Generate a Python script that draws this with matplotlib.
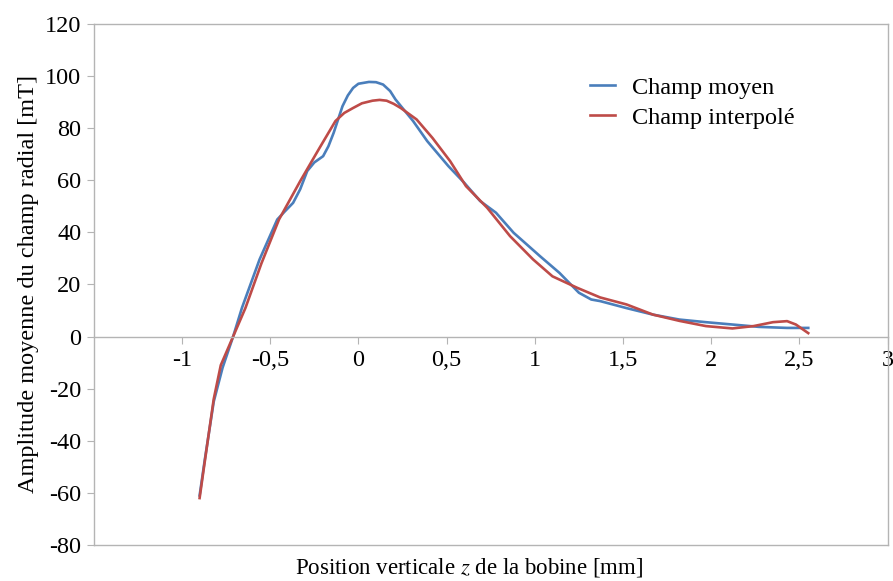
import numpy as np
import matplotlib.pyplot as plt

# data
x_moyen = [-0.90, -0.87, -0.82, -0.77, -0.71, -0.66, -0.56, -0.46, -0.42, -0.37, -0.33, -0.29,
           -0.25, -0.20, -0.17, -0.14, -0.09, -0.06, -0.03, 0.00, 0.06, 0.10, 0.14, 0.18, 0.21,
           0.31, 0.39, 0.51, 0.60, 0.69, 0.78, 0.88, 1.03, 1.14, 1.25, 1.32, 1.37, 1.52, 1.67,
           1.82, 1.97, 2.12, 2.27, 2.43, 2.55]
y_moyen = [-61, -47, -25, -12, 0, 11, 29.6, 44.9, 47.8, 51.3, 56.5, 63.5,
           66.8, 69.2, 73.0, 78.2, 88.4, 92.5, 95.4, 97.0, 97.7, 97.6, 96.7, 94.2, 91.0,
           82.7, 75.0, 65.4, 59.0, 52.0, 47.5, 39.8, 30.8, 24.4, 16.8, 14.2, 13.6, 10.9, 8.4,
           6.5, 5.5, 4.6, 3.7, 3.3, 3.3]

x_interp = [-0.90, -0.875, -0.82, -0.78, -0.71, -0.64, -0.55, -0.45, -0.33, -0.22, -0.13, -0.08,
            -0.03, 0.02, 0.08, 0.12, 0.16, 0.20, 0.24, 0.33, 0.42, 0.52, 0.61, 0.73, 0.86, 0.99,
            1.10, 1.24, 1.37, 1.52, 1.67, 1.82, 1.97, 2.12, 2.24, 2.35, 2.43, 2.48, 2.55]
y_interp = [-62, -50, -24, -11, 0, 11, 28, 44.9, 59.6, 72.4, 82.7, 85.8,
            87.7, 89.5, 90.5, 90.8, 90.5, 89.3, 87.7, 83.3, 76.2, 67.3, 57.7, 49.4, 38.5, 29.6,
            23.1, 18.7, 15.0, 12.3, 8.4, 6.0, 4.0, 3.1, 4.0, 5.5, 5.9, 4.6, 1.3]

xticks = [-1, -0.5, 0, 0.5, 1, 1.5, 2, 2.5, 3]
xticklabels = ['-1', '-0,5', '0', '0,5', '1', '1,5', '2', '2,5', '3']
yticks = [-80, -60, -40, -20, 0, 20, 40, 60, 80, 100, 120]

plt.rcParams['font.family'] = ['Liberation Serif', 'DejaVu Serif']
plt.rcParams['axes.unicode_minus'] = False
gray = '#b4b4b4'

fig = plt.figure(figsize=(8.93, 5.81), dpi=100)
ax = fig.add_axes([0.105, 0.062, 0.889, 0.897])

ax.plot(x_moyen, y_moyen, color='#4a7ebb', lw=1.9, label='Champ moyen')
ax.plot(x_interp, y_interp, color='#be4b48', lw=1.9, label='Champ interpolé')

ax.set_xlim(-1.5, 3)
ax.set_ylim(-80, 120)
ax.spines['bottom'].set_position(('data', 0))
for s in ax.spines.values():
    s.set_color(gray)
    s.set_linewidth(1.0)
ax.axhline(-80, color=gray, lw=1.0, clip_on=False)

ax.set_xticks(xticks)
ax.set_xticklabels(xticklabels)
ax.set_yticks(yticks)
ax.tick_params(axis='x', direction='out', length=5, color=gray, labelsize=17.5, pad=5)
ax.tick_params(axis='y', direction='out', length=5, color=gray, labelsize=17.5, pad=4)

ax.set_ylabel('Amplitude moyenne du champ radial [mT]', fontsize=17.5, labelpad=4)
fig.text(0.525, 0.004, 'Position verticale $z$ de la bobine [mm]', fontsize=16.5,
         ha='center', va='bottom', math_fontfamily='stix')

ax.legend(loc='upper left', bbox_to_anchor=(0.598, 0.94), frameon=False, fontsize=17.5,
          handlelength=1.0, handletextpad=0.7, labelspacing=0.32)

plt.savefig('out.png', dpi=100)
plt.close()
